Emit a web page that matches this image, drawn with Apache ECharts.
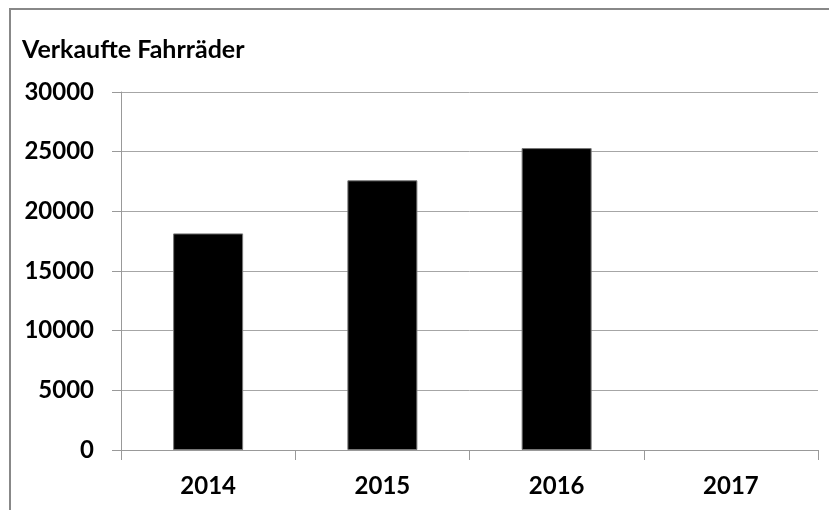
<!DOCTYPE html>
<html>
<head>
<meta charset="utf-8">
<script src="https://cdn.jsdelivr.net/npm/echarts@6/dist/echarts.min.js"></script>
<style>
html,body{margin:0;padding:0;background:#fff;}
#chart{width:829px;height:510px;}
</style>
</head>
<body>
<div id="chart"></div>
<script>
var titleText = 'Verkaufte Fahrräder';
var categories = ['2014', '2015', '2016', '2017'];
var sales = [18150, 22600, 25300, null];
var yMin = 0, yMax = 30000, yInterval = 5000;

var chart = echarts.init(document.getElementById('chart'), null, {renderer: 'canvas'});
var fontFam = 'Lato, "Open Sans", sans-serif';
chart.setOption({
  animation: false,
  backgroundColor: '#fff',
  title: {
    text: titleText,
    left: 17,
    top: 32,
    textStyle: {fontFamily: fontFam, fontWeight: 'bold', fontSize: 25, color: '#000'}
  },
  graphic: [{
    type: 'rect',
    shape: {x: 10, y: 9, width: 900, height: 600},
    style: {fill: 'none', stroke: '#888', lineWidth: 2},
    silent: true
  }],
  grid: {left: 121, right: 11, top: 92, bottom: 60, containLabel: false},
  xAxis: {
    type: 'category',
    data: categories,
    axisLine: {show: true, lineStyle: {color: '#999', width: 1}},
    axisTick: {show: true, length: 10, lineStyle: {color: '#999'}},
    axisLabel: {fontFamily: fontFam, fontWeight: 'bold', fontSize: 24, color: '#000', margin: 24}
  },
  yAxis: {
    type: 'value',
    min: yMin, max: yMax, interval: yInterval,
    axisLine: {show: true, lineStyle: {color: '#999', width: 1}},
    axisTick: {show: true, length: 9, lineStyle: {color: '#999'}},
    splitLine: {show: true, lineStyle: {color: '#a6a6a6', width: 1}},
    axisLabel: {fontFamily: fontFam, fontWeight: 'bold', fontSize: 24, color: '#000', margin: 27,
      formatter: function (v) { return String(v); }}
  },
  series: [{
    type: 'bar',
    data: sales,
    barWidth: 70,
    itemStyle: {color: '#000', borderColor: '#777', borderWidth: 1}
  }]
});
</script>
</body>
</html>
